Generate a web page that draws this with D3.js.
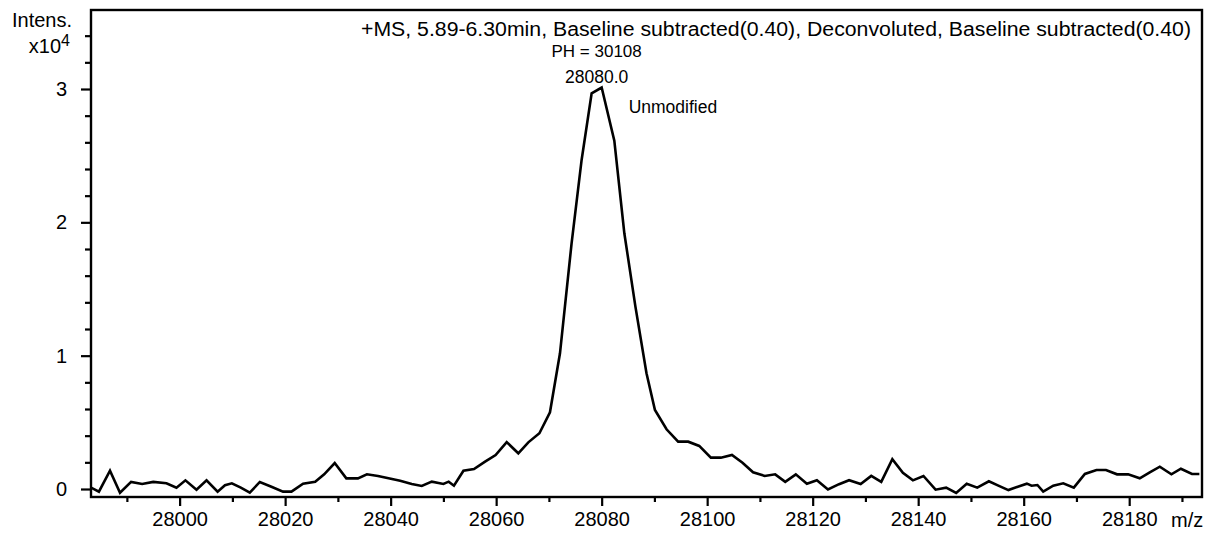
<!DOCTYPE html>
<html>
<head>
<meta charset="utf-8">
<script src="https://cdn.jsdelivr.net/npm/d3@7"></script>
<style>
  html, body { margin: 0; padding: 0; background: #fff; overflow: hidden; }
  svg { display: block; font-family: "Liberation Sans", Arial, sans-serif; }
</style>
</head>
<body>
<div id="vis"></div>
<script>
// deconvoluted spectrum (intensity in counts)
const mz = [
  27983.2, 27984.7, 27986.8, 27988.7, 27990.8, 27992.9, 27995.0, 27997.5, 27999.4,
  28001.1, 28003.2, 28005.1, 28007.2, 28008.6, 28009.9, 28011.6, 28013.3, 28015.2,
  28017.4, 28019.6, 28021.2, 28023.4, 28025.7, 28027.4, 28029.4, 28031.6, 28033.8,
  28035.5, 28037.6, 28039.6, 28041.8, 28044.0, 28045.9, 28047.8, 28050.0, 28051.0,
  28052.0, 28053.8, 28055.8, 28057.9, 28059.9, 28062.0, 28064.2, 28066.1, 28068.2,
  28070.2, 28072.1, 28074.3, 28076.2, 28078.1, 28080.0, 28082.4, 28084.3, 28086.4,
  28088.5, 28090.1, 28092.3, 28094.5, 28096.4, 28098.5, 28100.7, 28102.6, 28104.7,
  28106.7, 28108.7, 28110.9, 28112.9, 28114.8, 28116.8, 28118.9, 28120.8, 28122.9,
  28125.0, 28126.9, 28129.1, 28131.1, 28133.0, 28135.1, 28137.1, 28139.0, 28141.0,
  28143.3, 28145.3, 28147.2, 28149.2, 28151.2, 28153.4, 28155.2, 28157.1, 28159.3,
  28160.6, 28161.5, 28162.6, 28163.7, 28165.6, 28167.5, 28169.5, 28171.6, 28173.8,
  28175.6, 28177.7, 28179.8, 28182.0, 28183.9, 28185.8, 28188.0, 28189.8, 28191.9,
  28193.3
];
const intensity = [
  100, -200, 1370, -280, 530, 380, 530, 430, 100,
  650, -50, 650, -200, 280, 430, 100, -280, 530,
  170, -200, -200, 400, 550, 1100, 1950, 800, 800,
  1100, 970, 800, 620, 380, 230, 550, 380, 550,
  250, 1370, 1500, 2050, 2550, 3520, 2680, 3500, 4180,
  5750, 10180, 18430, 24680, 29680, 30108, 26130, 19180, 13680,
  8680, 5930, 4480, 3550, 3550, 3230, 2350, 2350, 2550,
  1970, 1250, 980, 1100, 540, 1100, 390, 660, -40,
  360, 660, 380, 980, 540, 2240, 1220, 650, 980,
  -50, 100, -300, 400, 100, 580, 250, -80, 230,
  400, 250, 300, -200, 250, 430, 100, 1130, 1430,
  1430, 1100, 1100, 800, 1250, 1670, 1100, 1520, 1130,
  1130
];

const xMajor = [28000, 28020, 28040, 28060, 28080, 28100, 28120, 28140, 28160, 28180];
const xMinor = [27990, 28010, 28030, 28050, 28070, 28090, 28110, 28130, 28150, 28170, 28190];
const yMajor = [0, 10000, 20000, 30000];
const yTickLabels = ["0", "1", "2", "3"];
const yMinor = [2000, 4000, 6000, 8000, 12000, 14000, 16000, 18000,
                22000, 24000, 26000, 28000, 32000, 34000];

const titleText = "+MS, 5.89-6.30min, Baseline subtracted(0.40), Deconvoluted, Baseline subtracted(0.40)";
const peakMz = 28080.0;
const peakHeight = 30108;
const peakName = "Unmodified";

const width = 1212, height = 533;
const margin = {left: 91, right: 10, top: 10, bottom: 36};
const plotR = width - margin.right;
const plotB = height - margin.bottom;

const x = d3.scaleLinear().domain([27983.2, 28193.8]).range([margin.left, plotR]);
const y = d3.scaleLinear().domain([-600, 35925]).range([plotB, margin.top]);

const svg = d3.select("#vis").append("svg")
    .attr("width", width)
    .attr("height", height);

svg.append("clipPath").attr("id", "clip")
  .append("rect")
    .attr("x", margin.left).attr("y", margin.top)
    .attr("width", plotR - margin.left).attr("height", plotB - margin.top);

// axes (ticks only, frame drawn separately)
function styleAxis(g) {
  g.select(".domain").remove();
  g.selectAll(".tick line").attr("stroke", "#000").attr("stroke-width", 2.2);
  g.selectAll(".tick text").attr("fill", "#000").attr("font-size", "20px");
}

svg.append("g")
    .attr("transform", "translate(0," + plotB + ")")
    .call(d3.axisBottom(x).tickValues(xMinor).tickSize(5).tickFormat(""))
    .call(styleAxis);

svg.append("g")
    .attr("transform", "translate(0," + plotB + ")")
    .call(d3.axisBottom(x).tickValues(xMajor).tickSize(9).tickPadding(6).tickFormat(d3.format("d")))
    .call(styleAxis);

svg.append("g")
    .attr("transform", "translate(" + margin.left + ",0)")
    .call(d3.axisLeft(y).tickValues(yMinor).tickSize(6).tickFormat(""))
    .call(styleAxis);

svg.append("g")
    .attr("transform", "translate(" + margin.left + ",0)")
    .call(d3.axisLeft(y).tickValues(yMajor).tickSize(10).tickPadding(14)
      .tickFormat((d, i) => yTickLabels[i]))
    .call(styleAxis);

// frame
svg.append("rect")
    .attr("x", margin.left).attr("y", margin.top)
    .attr("width", plotR - margin.left).attr("height", plotB - margin.top)
    .attr("fill", "none").attr("stroke", "#000").attr("stroke-width", 2.4);

// spectrum
const line = d3.line()
    .x((d, i) => x(mz[i]))
    .y(d => y(d));

svg.append("path")
    .datum(intensity)
    .attr("clip-path", "url(#clip)")
    .attr("fill", "none")
    .attr("stroke", "#000")
    .attr("stroke-width", 2.6)
    .attr("stroke-linejoin", "miter")
    .attr("d", line);

// axis titles
svg.append("text")
    .attr("x", 72).attr("y", 27)
    .attr("text-anchor", "end").attr("font-size", "20px")
    .text("Intens.");

const mult = svg.append("text")
    .attr("x", 70).attr("y", 53)
    .attr("text-anchor", "end").attr("font-size", "20px");
mult.append("tspan").text("x10");
mult.append("tspan").attr("dy", -7).attr("font-size", "16px").text("4");

svg.append("text")
    .attr("x", 1171).attr("y", 527)
    .attr("font-size", "20px")
    .text("m/z");

// title
svg.append("text")
    .attr("x", plotR - 11).attr("y", 36)
    .attr("text-anchor", "end").attr("font-size", "20px")
    .attr("textLength", 830).attr("lengthAdjust", "spacingAndGlyphs")
    .text(titleText);

// peak annotations
const px = x(peakMz), py = y(peakHeight);
svg.append("text")
    .attr("x", px - 5).attr("y", py - 31)
    .attr("text-anchor", "middle").attr("font-size", "17px")
    .text("PH = " + peakHeight);
svg.append("text")
    .attr("x", px - 5).attr("y", py - 5)
    .attr("text-anchor", "middle").attr("font-size", "17.5px")
    .text(peakMz.toFixed(1));
svg.append("text")
    .attr("x", px + 27).attr("y", py + 25)
    .attr("font-size", "17.5px")
    .text(peakName);
</script>
</body>
</html>
